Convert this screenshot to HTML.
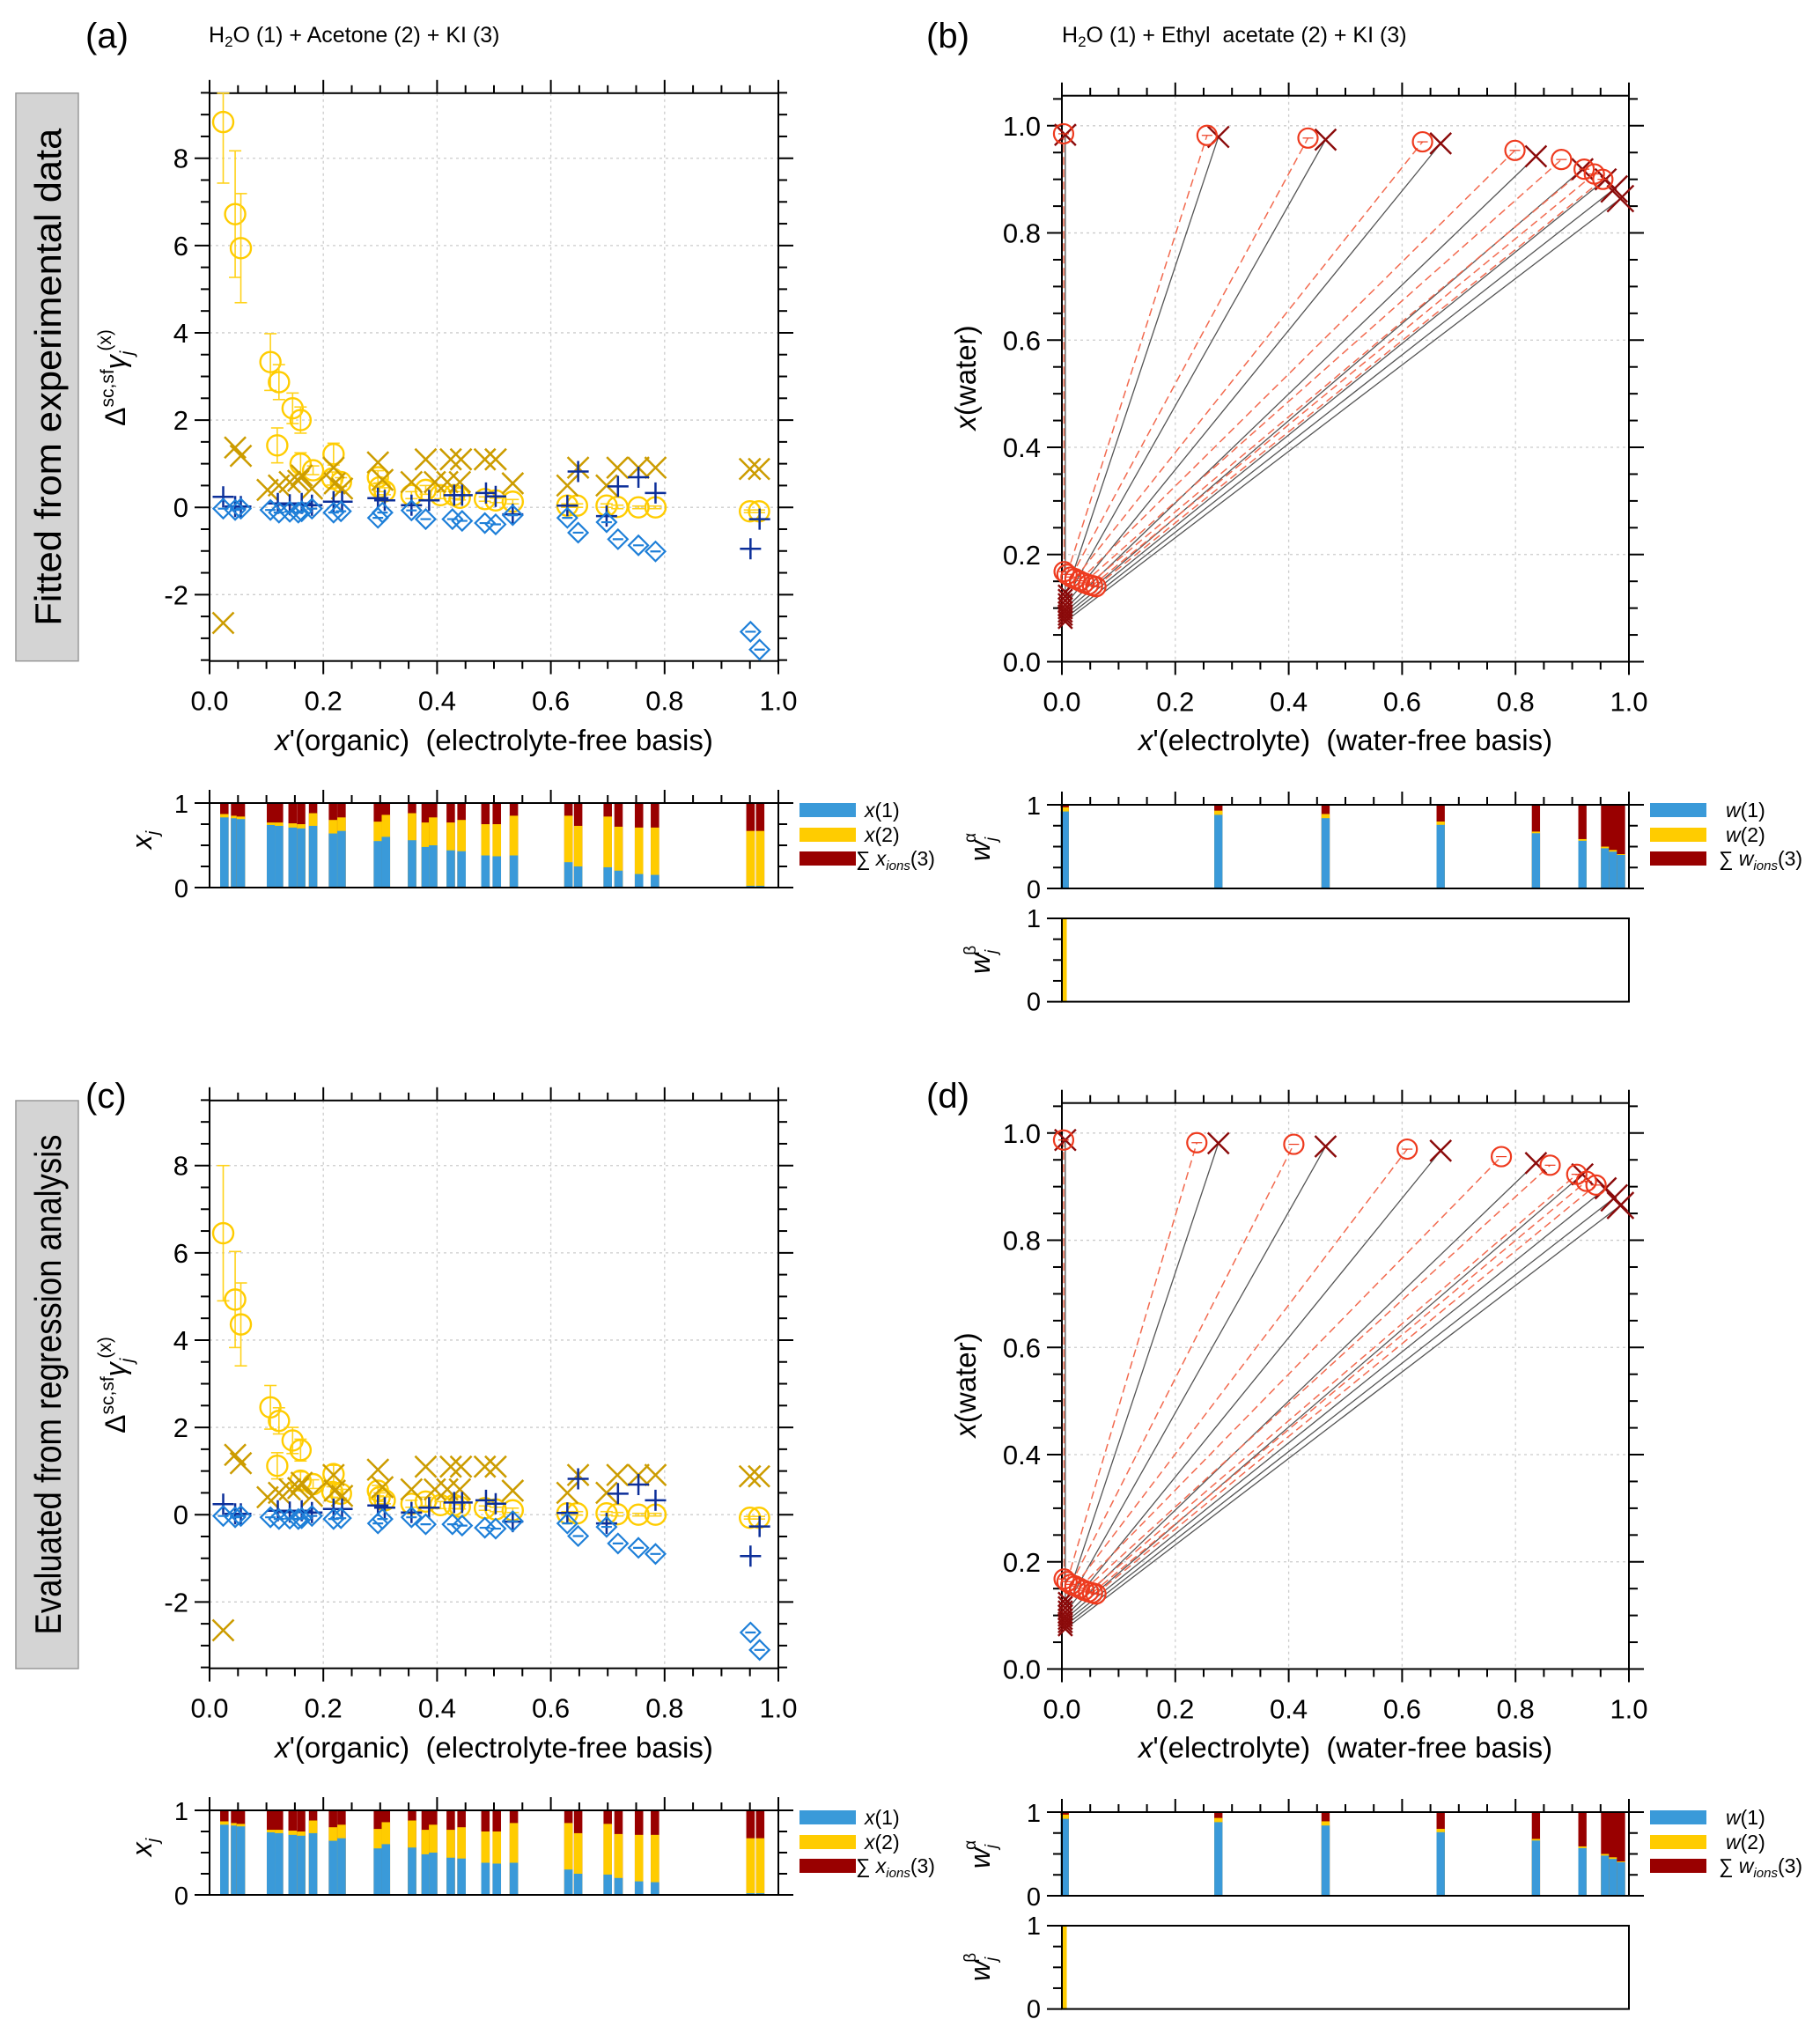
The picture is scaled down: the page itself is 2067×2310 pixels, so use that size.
<!DOCTYPE html>
<html><head><meta charset="utf-8"><style>
body{margin:0;background:#fff}
svg{display:block;font-family:"Liberation Sans",Arial,sans-serif}
text{white-space:pre}
</style></head><body>
<svg id="fig" width="2067" height="2310" viewBox="0 0 2067 2310" xmlns="http://www.w3.org/2000/svg"></svg>
<script>
// ---------- Panel (a)/(c) data ----------
const circX=[.024,.045,.055,.107,.122,.146,.160,.119,.160,.182,.218,.216,.231,.296,.299,.308,.355,.380,.406,.430,.440,.484,.503,.533,.629,.646,.698,.717,.754,.784,.950,.966];
const circYa=[8.83,6.72,5.94,3.33,2.87,2.27,2.0,1.42,1.0,.85,1.22,.66,.58,.69,.46,.37,.28,.40,.28,.28,.22,.19,.16,.13,.04,.04,.04,.01,0,0,-.09,-.09];
const circErrA=[1.4,1.45,1.25,.65,.4,.35,.3,.4,.25,.1,.25,.15,.1,.15,.1,.08,.08,.1,.08,.08,.05,.05,.05,.05,.04,.04,.04,.04,.03,.03,.03,.03];
const circYc=[6.45,4.93,4.36,2.46,2.15,1.70,1.48,1.12,.78,.70,.93,.52,.48,.55,.40,.33,.25,.30,.22,.22,.18,.15,.12,.10,.03,.03,.03,.01,0,0,-.07,-.07];
const circErrC=[1.55,1.1,.95,.5,.3,.3,.25,.3,.2,.1,.2,.12,.1,.12,.1,.08,.08,.1,.08,.08,.05,.05,.05,.05,.04,.04,.04,.04,.03,.03,.03,.03];
const crossX=[.024,.045,.055,.102,.122,.141,.156,.162,.180,.218,.220,.233,.296,.304,.355,.380,.396,.418,.424,.442,.440,.484,.503,.533,.629,.648,.698,.717,.754,.784,.950,.966];
const crossY=[-2.65,1.37,1.18,.40,.50,.58,.61,.73,.43,.91,.55,.43,1.03,.63,.58,1.10,.58,.58,1.10,1.10,.58,1.10,1.10,.55,.50,.91,.50,.91,.91,.91,.88,.88];
const plusX=[.024,.045,.055,.120,.141,.162,.180,.218,.233,.296,.308,.355,.386,.430,.444,.486,.503,.533,.629,.648,.698,.718,.754,.784,.951,.967];
const plusY=[.24,.02,.02,.09,.06,.09,.05,.13,.13,.21,.16,.05,.16,.28,.28,.33,.25,-.16,.04,.82,-.20,.48,.69,.33,-.95,-.27];
const diaX=[.024,.045,.055,.107,.122,.141,.156,.162,.180,.218,.231,.296,.304,.355,.380,.427,.444,.484,.503,.533,.629,.648,.698,.718,.754,.784,.951,.967];
const diaYa=[-.03,-.06,-.03,-.06,-.12,-.10,-.12,-.09,-.03,-.12,-.09,-.24,-.12,-.07,-.27,-.27,-.31,-.36,-.39,-.18,-.24,-.58,-.34,-.73,-.87,-1.01,-2.85,-3.26];
const diaYc=[-.03,-.06,-.03,-.06,-.10,-.09,-.10,-.08,-.03,-.10,-.08,-.20,-.10,-.06,-.22,-.22,-.25,-.30,-.32,-.15,-.20,-.49,-.28,-.66,-.76,-.90,-2.70,-3.10];
// composition bars (a)/(c)
const barX=[.026,.045,.055,.108,.122,.146,.161,.182,.217,.232,.296,.310,.356,.380,.393,.424,.443,.485,.505,.535,.631,.648,.700,.719,.755,.783,.951,.968];
const barX1=[.83,.82,.81,.74,.73,.71,.70,.73,.64,.67,.55,.60,.56,.48,.50,.44,.43,.38,.37,.38,.30,.25,.24,.20,.16,.15,.02,.02];
const barX2=[.04,.03,.03,.03,.04,.05,.05,.15,.16,.16,.23,.26,.32,.29,.33,.33,.37,.37,.38,.47,.55,.48,.60,.52,.55,.56,.65,.65];
// ---------- Panel (b)/(d) data ----------
const topCircXb=[.003,.256,.434,.636,.799,.881,.921,.939,.954];
const topCircYb=[.985,.982,.977,.970,.954,.937,.919,.910,.900];
const topCircXd=[.003,.238,.409,.609,.775,.861,.908,.925,.942];
const topCircYd=[.987,.982,.979,.970,.956,.940,.923,.910,.903];
const botCircX=[.004,.009,.016,.023,.031,.039,.047,.054,.060];
const botCircY=[.168,.163,.158,.155,.151,.147,.144,.142,.140];
const topCrossX=[.006,.276,.465,.668,.836,.918,.959,.974,.985];
const topCrossYb=[.983,.979,.974,.967,.943,.919,.900,.882,.864];
const topCrossYd=[.987,.981,.975,.967,.944,.923,.897,.879,.865];
const botCrossY=[.130,.122,.114,.106,.099,.093,.087,.081,.075];
const wBarX=[.005,.276,.465,.668,.836,.918,.958,.972,.986];
const wBarW1=[.92,.88,.84,.76,.66,.57,.48,.44,.40];
const wBarW2=[.05,.05,.05,.04,.02,.02,.02,.02,.01];
const betaX=[.005];
const betaW2=[1];

const NS="http://www.w3.org/2000/svg";
const svg=document.getElementById('fig');
function el(tag,attrs,parent){const e=document.createElementNS(NS,tag);for(const k in attrs)e.setAttribute(k,attrs[k]);(parent||svg).appendChild(e);return e;}
function txt(s,x,y,size,anchor,parent,extra){const t=el('text',Object.assign({x:x,y:y,'font-size':size,'text-anchor':anchor||'start',fill:'#000'},extra||{}),parent);t.textContent=s;return t;}

function frame(g,x0,x1,yT,yB,xs,ys,xMinor,xMajor,yMinor,yMajor,ymin,ymax,grid,xLabels,yLabelFn,ytickFs){
  if(grid){
    for(let v=xMajor;v<1-1e-9;v+=xMajor) el('line',{x1:xs(v),x2:xs(v),y1:yT,y2:yB,stroke:'#ccc','stroke-width':1.3,'stroke-dasharray':'3,4'},g);
    for(let v=Math.ceil(ymin/yMajor)*yMajor;v<=ymax;v+=yMajor){const y=ys(v);if(y>yT+2&&y<yB-2)el('line',{x1:x0,x2:x1,y1:y,y2:y,stroke:'#ccc','stroke-width':1.3,'stroke-dasharray':'3,4'},g);}
  }
  el('rect',{x:x0,y:yT,width:x1-x0,height:yB-yT,fill:'none',stroke:'#000','stroke-width':2},g);
  for(let i=0;i<=Math.round(1/xMinor);i++){const v=i*xMinor;const maj=Math.abs(v/xMajor-Math.round(v/xMajor))<1e-6;const L=maj?15:9;const x=xs(v);
    el('line',{x1:x,x2:x,y1:yT,y2:yT-L,stroke:'#000','stroke-width':2},g);
    if(xLabels) el('line',{x1:x,x2:x,y1:yB,y2:yB+L,stroke:'#000','stroke-width':2},g);
    if(xLabels&&maj) txt(v.toFixed(1),x,yB+56,31,'middle',g);
  }
  const n0=Math.ceil(ymin/yMinor-1e-9),n1=Math.floor(ymax/yMinor+1e-9);
  for(let i=n0;i<=n1;i++){const v=i*yMinor;const maj=Math.abs(v/yMajor-Math.round(v/yMajor))<1e-6;const L=maj?17:10;const y=ys(v);
    el('line',{x1:x0,x2:x0-L,y1:y,y2:y,stroke:'#000','stroke-width':2},g);
    el('line',{x1:x1,x2:x1+L,y1:y,y2:y,stroke:'#000','stroke-width':2},g);
    if(maj&&yLabelFn) txt(yLabelFn(v),x0-24,y+11,ytickFs||31,'end',g);
  }
}

function panelAC(oy,circY,circErr,diaY,tag){
  const g=el('g',{});
  
  
  const x0=238,x1=884,yT=105.8+oy,yB=750.7+oy,y0=576.2+oy,k=49.56;
  const xs=v=>x0+(x1-x0)*v, ys=v=>y0-k*v;
  frame(g,x0,x1,yT,yB,xs,ys,0.05,0.2,0.5,2,-3.5,9.5,true,true,v=>String(Math.round(v)),31);
  for(let i=0;i<circX.length;i++){const x=xs(circX[i]),y=ys(circY[i]),e=circErr[i]*k;
    const c=el('g',{},g);
    
    
    el('line',{x1:x,x2:x,y1:Math.max(yT,y-e),y2:y+e,stroke:'#ffd21a','stroke-width':1.6},c);
    el('line',{x1:x-7,x2:x+7,y1:Math.max(yT,y-e),y2:Math.max(yT,y-e),stroke:'#ffd21a','stroke-width':1.6},c);
    el('line',{x1:x-7,x2:x+7,y1:y+e,y2:y+e,stroke:'#ffd21a','stroke-width':1.6},c);
    el('circle',{cx:x,cy:y,r:11.5,fill:'none',stroke:'#ffcc00','stroke-width':2.4},c);}
  for(let i=0;i<crossX.length;i++){const x=xs(crossX[i]),y=ys(crossY[i]),s=12;
    const p=el('path',{d:`M${x-s},${y-s}L${x+s},${y+s}M${x-s},${y+s}L${x+s},${y-s}`,stroke:'#cc9c00','stroke-width':2.5,fill:'none'},g);
    
    }
  for(let i=0;i<plusX.length;i++){const x=xs(plusX[i]),y=ys(plusY[i]),s=12;
    const p=el('path',{d:`M${x-s},${y}L${x+s},${y}M${x},${y-s}L${x},${y+s}`,stroke:'#0c2f9a','stroke-width':2.5,fill:'none'},g);
    
    }
  for(let i=0;i<diaX.length;i++){const x=xs(diaX[i]),y=ys(diaY[i]),s=11;
    const p=el('path',{d:`M${x},${y-s}L${x+s},${y}L${x},${y+s}L${x-s},${y}Z M${x-6},${y}L${x+6},${y}`,stroke:'#1e7fd8','stroke-width':2.2,fill:'none'},g);
    
    }
  const yl=txt('',142,429+oy,32,'middle',g,{transform:`rotate(-90 142 ${429+oy})`});
  
  
  yl.innerHTML='Δ<tspan font-size="21" dy="-13">sc,sf</tspan><tspan dy="13" font-style="italic">γ</tspan><tspan font-size="21" dy="9" font-style="italic">j</tspan><tspan font-size="21" dy="-25">(x)</tspan>';
  const xl=txt('',561,852+oy,33,'middle',g);
  
  
  xl.innerHTML='<tspan font-style="italic">x</tspan>\'(organic)  (electrolyte-free basis)';
  const bT=912+oy,bB=1008+oy,bs=v=>bB-(bB-bT)*v;
  const bg=el('g',{},g);
  
  
  const bw=(x1-x0)*0.0148;
  for(let i=0;i<barX.length;i++){const cx=xs(barX[i]);
    el('rect',{x:cx-bw/2,y:bT,width:bw,height:bB-bT,fill:'#990000'},bg);
    el('rect',{x:cx-bw/2,y:bs(barX1[i]+barX2[i]),width:bw,height:(bB-bT)*(barX1[i]+barX2[i]),fill:'#ffcc00'},bg);
    el('rect',{x:cx-bw/2,y:bs(barX1[i]),width:bw,height:(bB-bT)*barX1[i],fill:'#3a9ad9'},bg);}
  frame(bg,x0,x1,bT,bB,xs,bs,0.05,0.2,0.25,1,0,1,false,false,v=>String(v),29);
  const bl=txt('',172,954+oy,32,'middle',g,{transform:`rotate(-90 172 ${954+oy})`});
  
  
  bl.innerHTML='<tspan font-style="italic">x</tspan><tspan font-size="20" dy="8" font-style="italic">j</tspan>';
  legend(g,908,oy,'x');
}
function legend(g,lx,oy,v){
  const lg=el('g',{},g);
  
  
  const cols=['#3a9ad9','#ffcc00','#990000'];const ys=[920,948,975];
  for(let i=0;i<3;i++){el('rect',{x:lx,y:ys[i]-8+oy,width:64,height:16,fill:cols[i]},lg);}
  const t1=txt('',lx+(v==='w'?86:74),ys[0]+8+oy,23,'start',lg);t1.innerHTML=`<tspan font-style="italic">${v}</tspan>(1)`;
  const t2=txt('',lx+(v==='w'?86:74),ys[1]+8+oy,23,'start',lg);t2.innerHTML=`<tspan font-style="italic">${v}</tspan>(2)`;
  const t3=txt('',lx+(v==='w'?78:64),ys[2]+8+oy,23,'start',lg);t3.innerHTML=`∑ <tspan font-style="italic">${v}</tspan><tspan font-size="15" dy="5" font-style="italic">ions</tspan><tspan dy="-5">(3)</tspan>`;
}
function panelBD(oy,tcx,tcy,tkY,tag){
  const g=el('g',{});
  
  
  const x0=1206,x1=1850,y0=751.5+oy,k=608.7,yT=108.7+oy;
  const xs=v=>x0+(x1-x0)*v, ys=v=>y0-k*v;
  frame(g,x0,x1,yT,y0,xs,ys,0.05,0.2,0.05,0.2,0,1.05,true,true,v=>v.toFixed(1),31);
  for(let i=0;i<tcx.length;i++){
    const l=el('line',{x1:xs(botCircX[i]),y1:ys(botCircY[i]),x2:xs(tcx[i]),y2:ys(tcy[i]),stroke:'#f26a4f','stroke-width':1.5,'stroke-dasharray':'9,5'},g);
    
    
    const m=el('line',{x1:xs(0.006),y1:ys(botCrossY[i]),x2:xs(topCrossX[i]),y2:ys(tkY[i]),stroke:'#555','stroke-width':1.3},g);
    
    
  }
  const cross=(x,y,s)=>{const p=el('path',{d:`M${x-s},${y-s}L${x+s},${y+s}M${x-s},${y+s}L${x+s},${y-s}`,stroke:'#8b0a0a','stroke-width':2.4,fill:'none'},g);};
  const circ=(x,y)=>{const c=el('circle',{cx:x,cy:y,r:11,fill:'none',stroke:'#ee3a1e','stroke-width':2.2},g);el('line',{x1:x-6,x2:x+6,y1:y,y2:y,stroke:'#ee3a1e','stroke-width':1.2},g);};
  for(let i=0;i<tcx.length;i++){cross(xs(topCrossX[i]),ys(tkY[i]),i>6?15:12);cross(xs(0.006),ys(botCrossY[i]),8);}
  for(let i=0;i<tcx.length;i++){circ(xs(tcx[i]),ys(tcy[i]));circ(xs(botCircX[i]),ys(botCircY[i]));}
  const yl=txt('',1108,429+oy,33,'middle',g,{transform:`rotate(-90 1108 ${429+oy})`});
  
  
  yl.innerHTML='<tspan font-style="italic">x</tspan>(water)';
  const xl=txt('',1528,852+oy,33,'middle',g);
  
  
  xl.innerHTML='<tspan font-style="italic">x</tspan>\'(electrolyte)  (water-free basis)';
  const bw=(x1-x0)*0.0145;
  const aT=914+oy,aB=1009+oy,as=v=>aB-(aB-aT)*v;
  const ag=el('g',{},g);
  
  
  for(let i=0;i<wBarX.length;i++){const cx=xs(wBarX[i]);
    el('rect',{x:cx-bw/2,y:aT,width:bw,height:aB-aT,fill:'#990000'},ag);
    el('rect',{x:cx-bw/2,y:as(wBarW1[i]+wBarW2[i]),width:bw,height:(aB-aT)*(wBarW1[i]+wBarW2[i]),fill:'#ffcc00'},ag);
    el('rect',{x:cx-bw/2,y:as(wBarW1[i]),width:bw,height:(aB-aT)*wBarW1[i],fill:'#3a9ad9'},ag);}
  frame(ag,x0,x1,aT,aB,xs,as,0.05,0.2,0.25,1,0,1,false,false,v=>String(v),29);
  const al=txt('',1124,962+oy,32,'middle',g,{transform:`rotate(-90 1124 ${962+oy})`});
  
  
  al.innerHTML='<tspan font-style="italic">w</tspan><tspan font-size="19" dy="8" font-style="italic">j</tspan><tspan font-size="19" dx="-6" dy="-24">α</tspan>';
  const bT=1043+oy,bB=1137.6+oy,bs=v=>bB-(bB-bT)*v;
  const bg=el('g',{},g);
  
  
  for(let i=0;i<betaX.length;i++){const cx=xs(betaX[i]);
    el('rect',{x:cx-bw/4,y:bs(betaW2[i]),width:bw/2,height:(bB-bT)*betaW2[i],fill:'#ffcc00'},bg);}
  el('rect',{x:x0,y:bT,width:x1-x0,height:bB-bT,fill:'none',stroke:'#000','stroke-width':2},bg);
  for(let i=0;i<=4;i++){const y=bs(i*0.25),L=(i%4===0)?17:10;el('line',{x1:x0,x2:x0-L,y1:y,y2:y,stroke:'#000','stroke-width':2},bg);}
  txt('1',x0-24,bs(1)+10,29,'end',bg);txt('0',x0-24,bs(0)+10,29,'end',bg);
  const bl=txt('',1124,1090+oy,32,'middle',g,{transform:`rotate(-90 1124 ${1090+oy})`});
  
  
  bl.innerHTML='<tspan font-style="italic">w</tspan><tspan font-size="19" dy="8" font-style="italic">j</tspan><tspan font-size="19" dx="-6" dy="-24">β</tspan>';
  legend(g,1874,oy,'w');
}
function side(y0,y1,label,name){
  const g=el('g',{});
  
  
  el('rect',{x:18,y:y0,width:71,height:y1-y0,fill:'#d4d4d4',stroke:'#999','stroke-width':1.5},g);
  const c=(y0+y1)/2;
  txt(label,54,c+15,42,'middle',g,{transform:`rotate(-90 54 ${c})`,textLength:label.length>30?568:565,lengthAdjust:'spacingAndGlyphs'});
}
side(105.8,750.7,'Fitted from experimental data','side-label-fitted');
side(1250,1895,'Evaluated from regression analysis','side-label-evaluated');
panelAC(0,circYa,circErrA,diaYa,'a');
panelAC(1144,circYc,circErrC,diaYc,'c');
panelBD(0,topCircXb,topCircYb,topCrossYb,'b');
panelBD(1144,topCircXd,topCircYd,topCrossYd,'d');
[['(a)',97,54],['(b)',1052,54],['(c)',97,1258],['(d)',1052,1258]].forEach(a=>{const t=txt(a[0],a[1],a[2],40,'start');});
const t1=txt('',237,48,25,'start');
t1.innerHTML='H<tspan font-size="17" dy="5">2</tspan><tspan dy="-5">O (1) + Acetone (2) + KI (3)</tspan>';
const t2=txt('',1206,48,25,'start');
t2.innerHTML='H<tspan font-size="17" dy="5">2</tspan><tspan dy="-5">O (1) + Ethyl  acetate (2) + KI (3)</tspan>';
</script>
</body></html>
